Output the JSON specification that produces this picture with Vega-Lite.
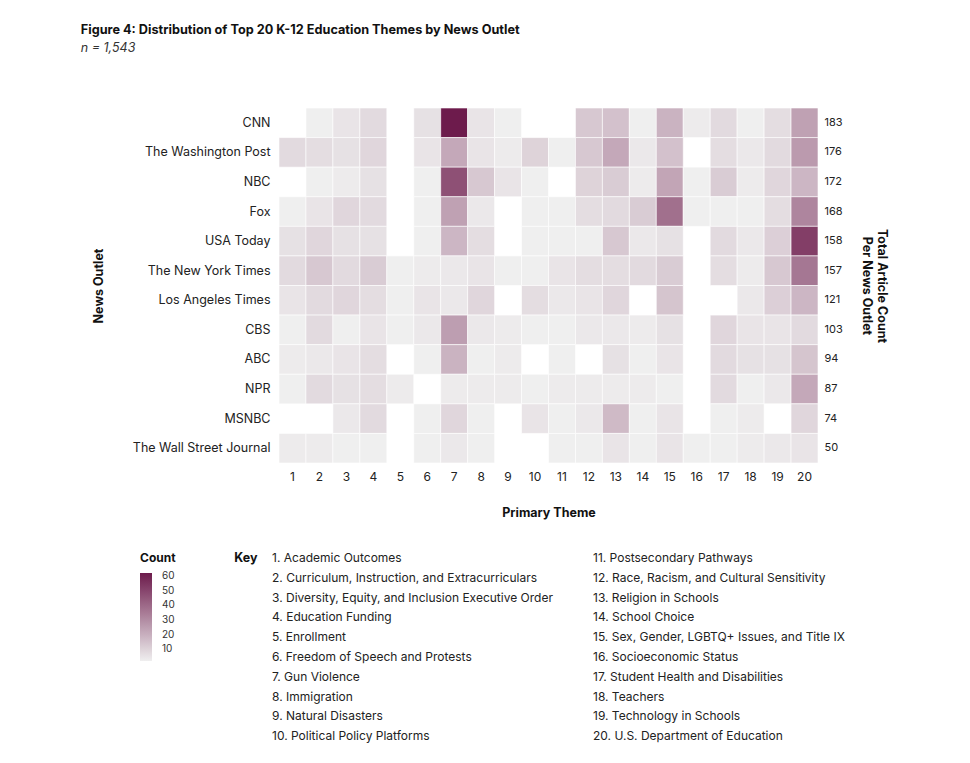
{
  "$schema": "https://vega.github.io/schema/vega-lite/v6.json",
  "background": "white",
  "padding": {"left": 80, "top": 23, "right": 10, "bottom": 10},
  "config": {
    "font": "Inter",
    "view": {"stroke": null},
    "axis": {"domain": false, "ticks": false, "grid": false, "labelFont": "Inter", "titleFont": "Inter", "labelColor": "#222", "titleColor": "#111"},
    "concat": {"spacing": 29}
  },
  "title": {
    "text": "Figure 4: Distribution of Top 20 K-12 Education Themes by News Outlet",
    "subtitle": "n = 1,543",
    "anchor": "start",
    "frame": "bounds",
    "dx": -12,
    "fontSize": 12.7,
    "fontWeight": "bold",
    "color": "#111",
    "subtitleFontStyle": "italic",
    "subtitleFontSize": 12.5,
    "subtitleColor": "#333",
    "subtitlePadding": 6,
    "offset": 53
  },
  "datasets": {
    "cells": [
      {"outlet": "CNN", "theme": 2, "count": 2}, {"outlet": "CNN", "theme": 3, "count": 5}, {"outlet": "CNN", "theme": 4, "count": 8}, {"outlet": "CNN", "theme": 6, "count": 6}, {"outlet": "CNN", "theme": 7, "count": 62}, {"outlet": "CNN", "theme": 8, "count": 5}, {"outlet": "CNN", "theme": 9, "count": 2}, {"outlet": "CNN", "theme": 12, "count": 13}, {"outlet": "CNN", "theme": 13, "count": 15}, {"outlet": "CNN", "theme": 14, "count": 2}, {"outlet": "CNN", "theme": 15, "count": 19}, {"outlet": "CNN", "theme": 16, "count": 3}, {"outlet": "CNN", "theme": 17, "count": 8}, {"outlet": "CNN", "theme": 18, "count": 2}, {"outlet": "CNN", "theme": 19, "count": 7}, {"outlet": "CNN", "theme": 20, "count": 24},
      {"outlet": "The Washington Post", "theme": 1, "count": 8}, {"outlet": "The Washington Post", "theme": 2, "count": 7}, {"outlet": "The Washington Post", "theme": 3, "count": 6}, {"outlet": "The Washington Post", "theme": 4, "count": 9}, {"outlet": "The Washington Post", "theme": 6, "count": 5}, {"outlet": "The Washington Post", "theme": 7, "count": 22}, {"outlet": "The Washington Post", "theme": 8, "count": 5}, {"outlet": "The Washington Post", "theme": 9, "count": 3}, {"outlet": "The Washington Post", "theme": 10, "count": 10}, {"outlet": "The Washington Post", "theme": 11, "count": 2}, {"outlet": "The Washington Post", "theme": 12, "count": 13}, {"outlet": "The Washington Post", "theme": 13, "count": 22}, {"outlet": "The Washington Post", "theme": 14, "count": 4}, {"outlet": "The Washington Post", "theme": 15, "count": 15}, {"outlet": "The Washington Post", "theme": 17, "count": 7}, {"outlet": "The Washington Post", "theme": 18, "count": 4}, {"outlet": "The Washington Post", "theme": 19, "count": 8}, {"outlet": "The Washington Post", "theme": 20, "count": 26},
      {"outlet": "NBC", "theme": 2, "count": 2}, {"outlet": "NBC", "theme": 3, "count": 3}, {"outlet": "NBC", "theme": 4, "count": 6}, {"outlet": "NBC", "theme": 6, "count": 2}, {"outlet": "NBC", "theme": 7, "count": 47}, {"outlet": "NBC", "theme": 8, "count": 13}, {"outlet": "NBC", "theme": 9, "count": 5}, {"outlet": "NBC", "theme": 10, "count": 2}, {"outlet": "NBC", "theme": 12, "count": 10}, {"outlet": "NBC", "theme": 13, "count": 12}, {"outlet": "NBC", "theme": 14, "count": 3}, {"outlet": "NBC", "theme": 15, "count": 23}, {"outlet": "NBC", "theme": 16, "count": 2}, {"outlet": "NBC", "theme": 17, "count": 12}, {"outlet": "NBC", "theme": 18, "count": 3}, {"outlet": "NBC", "theme": 19, "count": 9}, {"outlet": "NBC", "theme": 20, "count": 18},
      {"outlet": "Fox", "theme": 1, "count": 2}, {"outlet": "Fox", "theme": 2, "count": 5}, {"outlet": "Fox", "theme": 3, "count": 9}, {"outlet": "Fox", "theme": 4, "count": 8}, {"outlet": "Fox", "theme": 6, "count": 2}, {"outlet": "Fox", "theme": 7, "count": 24}, {"outlet": "Fox", "theme": 8, "count": 4}, {"outlet": "Fox", "theme": 10, "count": 2}, {"outlet": "Fox", "theme": 11, "count": 2}, {"outlet": "Fox", "theme": 12, "count": 7}, {"outlet": "Fox", "theme": 13, "count": 8}, {"outlet": "Fox", "theme": 14, "count": 12}, {"outlet": "Fox", "theme": 15, "count": 38}, {"outlet": "Fox", "theme": 16, "count": 2}, {"outlet": "Fox", "theme": 17, "count": 2}, {"outlet": "Fox", "theme": 18, "count": 2}, {"outlet": "Fox", "theme": 19, "count": 7}, {"outlet": "Fox", "theme": 20, "count": 32},
      {"outlet": "USA Today", "theme": 1, "count": 6}, {"outlet": "USA Today", "theme": 2, "count": 9}, {"outlet": "USA Today", "theme": 3, "count": 6}, {"outlet": "USA Today", "theme": 4, "count": 6}, {"outlet": "USA Today", "theme": 6, "count": 2}, {"outlet": "USA Today", "theme": 7, "count": 18}, {"outlet": "USA Today", "theme": 8, "count": 7}, {"outlet": "USA Today", "theme": 10, "count": 2}, {"outlet": "USA Today", "theme": 11, "count": 2}, {"outlet": "USA Today", "theme": 12, "count": 2}, {"outlet": "USA Today", "theme": 13, "count": 13}, {"outlet": "USA Today", "theme": 14, "count": 4}, {"outlet": "USA Today", "theme": 15, "count": 6}, {"outlet": "USA Today", "theme": 17, "count": 8}, {"outlet": "USA Today", "theme": 18, "count": 4}, {"outlet": "USA Today", "theme": 19, "count": 11}, {"outlet": "USA Today", "theme": 20, "count": 52},
      {"outlet": "The New York Times", "theme": 1, "count": 8}, {"outlet": "The New York Times", "theme": 2, "count": 13}, {"outlet": "The New York Times", "theme": 3, "count": 8}, {"outlet": "The New York Times", "theme": 4, "count": 12}, {"outlet": "The New York Times", "theme": 5, "count": 2}, {"outlet": "The New York Times", "theme": 6, "count": 3}, {"outlet": "The New York Times", "theme": 7, "count": 4}, {"outlet": "The New York Times", "theme": 8, "count": 5}, {"outlet": "The New York Times", "theme": 9, "count": 2}, {"outlet": "The New York Times", "theme": 10, "count": 2}, {"outlet": "The New York Times", "theme": 11, "count": 5}, {"outlet": "The New York Times", "theme": 12, "count": 7}, {"outlet": "The New York Times", "theme": 13, "count": 7}, {"outlet": "The New York Times", "theme": 14, "count": 8}, {"outlet": "The New York Times", "theme": 15, "count": 12}, {"outlet": "The New York Times", "theme": 17, "count": 7}, {"outlet": "The New York Times", "theme": 18, "count": 3}, {"outlet": "The New York Times", "theme": 19, "count": 13}, {"outlet": "The New York Times", "theme": 20, "count": 36},
      {"outlet": "Los Angeles Times", "theme": 1, "count": 5}, {"outlet": "Los Angeles Times", "theme": 2, "count": 8}, {"outlet": "Los Angeles Times", "theme": 3, "count": 9}, {"outlet": "Los Angeles Times", "theme": 4, "count": 7}, {"outlet": "Los Angeles Times", "theme": 5, "count": 2}, {"outlet": "Los Angeles Times", "theme": 6, "count": 5}, {"outlet": "Los Angeles Times", "theme": 7, "count": 4}, {"outlet": "Los Angeles Times", "theme": 8, "count": 9}, {"outlet": "Los Angeles Times", "theme": 10, "count": 7}, {"outlet": "Los Angeles Times", "theme": 11, "count": 4}, {"outlet": "Los Angeles Times", "theme": 12, "count": 5}, {"outlet": "Los Angeles Times", "theme": 13, "count": 9}, {"outlet": "Los Angeles Times", "theme": 15, "count": 14}, {"outlet": "Los Angeles Times", "theme": 18, "count": 4}, {"outlet": "Los Angeles Times", "theme": 19, "count": 11}, {"outlet": "Los Angeles Times", "theme": 20, "count": 18},
      {"outlet": "CBS", "theme": 1, "count": 2}, {"outlet": "CBS", "theme": 2, "count": 8}, {"outlet": "CBS", "theme": 3, "count": 2}, {"outlet": "CBS", "theme": 4, "count": 5}, {"outlet": "CBS", "theme": 5, "count": 2}, {"outlet": "CBS", "theme": 6, "count": 4}, {"outlet": "CBS", "theme": 7, "count": 25}, {"outlet": "CBS", "theme": 8, "count": 4}, {"outlet": "CBS", "theme": 9, "count": 3}, {"outlet": "CBS", "theme": 10, "count": 2}, {"outlet": "CBS", "theme": 11, "count": 2}, {"outlet": "CBS", "theme": 12, "count": 4}, {"outlet": "CBS", "theme": 13, "count": 4}, {"outlet": "CBS", "theme": 14, "count": 3}, {"outlet": "CBS", "theme": 15, "count": 6}, {"outlet": "CBS", "theme": 17, "count": 9}, {"outlet": "CBS", "theme": 18, "count": 5}, {"outlet": "CBS", "theme": 19, "count": 5}, {"outlet": "CBS", "theme": 20, "count": 8},
      {"outlet": "ABC", "theme": 1, "count": 3}, {"outlet": "ABC", "theme": 2, "count": 4}, {"outlet": "ABC", "theme": 3, "count": 5}, {"outlet": "ABC", "theme": 4, "count": 7}, {"outlet": "ABC", "theme": 6, "count": 2}, {"outlet": "ABC", "theme": 7, "count": 19}, {"outlet": "ABC", "theme": 8, "count": 2}, {"outlet": "ABC", "theme": 9, "count": 3}, {"outlet": "ABC", "theme": 11, "count": 2}, {"outlet": "ABC", "theme": 13, "count": 6}, {"outlet": "ABC", "theme": 14, "count": 2}, {"outlet": "ABC", "theme": 15, "count": 5}, {"outlet": "ABC", "theme": 17, "count": 8}, {"outlet": "ABC", "theme": 18, "count": 6}, {"outlet": "ABC", "theme": 19, "count": 6}, {"outlet": "ABC", "theme": 20, "count": 14},
      {"outlet": "NPR", "theme": 1, "count": 2}, {"outlet": "NPR", "theme": 2, "count": 8}, {"outlet": "NPR", "theme": 3, "count": 6}, {"outlet": "NPR", "theme": 4, "count": 7}, {"outlet": "NPR", "theme": 5, "count": 3}, {"outlet": "NPR", "theme": 7, "count": 3}, {"outlet": "NPR", "theme": 8, "count": 3}, {"outlet": "NPR", "theme": 9, "count": 3}, {"outlet": "NPR", "theme": 10, "count": 2}, {"outlet": "NPR", "theme": 11, "count": 3}, {"outlet": "NPR", "theme": 12, "count": 3}, {"outlet": "NPR", "theme": 13, "count": 3}, {"outlet": "NPR", "theme": 14, "count": 3}, {"outlet": "NPR", "theme": 15, "count": 2}, {"outlet": "NPR", "theme": 17, "count": 8}, {"outlet": "NPR", "theme": 18, "count": 2}, {"outlet": "NPR", "theme": 19, "count": 4}, {"outlet": "NPR", "theme": 20, "count": 22},
      {"outlet": "MSNBC", "theme": 3, "count": 4}, {"outlet": "MSNBC", "theme": 4, "count": 8}, {"outlet": "MSNBC", "theme": 6, "count": 2}, {"outlet": "MSNBC", "theme": 7, "count": 9}, {"outlet": "MSNBC", "theme": 8, "count": 2}, {"outlet": "MSNBC", "theme": 10, "count": 5}, {"outlet": "MSNBC", "theme": 11, "count": 2}, {"outlet": "MSNBC", "theme": 12, "count": 4}, {"outlet": "MSNBC", "theme": 13, "count": 17}, {"outlet": "MSNBC", "theme": 14, "count": 2}, {"outlet": "MSNBC", "theme": 15, "count": 5}, {"outlet": "MSNBC", "theme": 17, "count": 2}, {"outlet": "MSNBC", "theme": 18, "count": 3}, {"outlet": "MSNBC", "theme": 20, "count": 9},
      {"outlet": "The Wall Street Journal", "theme": 1, "count": 3}, {"outlet": "The Wall Street Journal", "theme": 2, "count": 3}, {"outlet": "The Wall Street Journal", "theme": 3, "count": 2}, {"outlet": "The Wall Street Journal", "theme": 4, "count": 2}, {"outlet": "The Wall Street Journal", "theme": 6, "count": 2}, {"outlet": "The Wall Street Journal", "theme": 7, "count": 4}, {"outlet": "The Wall Street Journal", "theme": 8, "count": 2}, {"outlet": "The Wall Street Journal", "theme": 11, "count": 2}, {"outlet": "The Wall Street Journal", "theme": 12, "count": 2}, {"outlet": "The Wall Street Journal", "theme": 13, "count": 5}, {"outlet": "The Wall Street Journal", "theme": 14, "count": 2}, {"outlet": "The Wall Street Journal", "theme": 15, "count": 5}, {"outlet": "The Wall Street Journal", "theme": 16, "count": 2}, {"outlet": "The Wall Street Journal", "theme": 17, "count": 2}, {"outlet": "The Wall Street Journal", "theme": 18, "count": 3}, {"outlet": "The Wall Street Journal", "theme": 19, "count": 4}, {"outlet": "The Wall Street Journal", "theme": 20, "count": 5}
    ],
    "totals": [
      {"outlet": "CNN", "total": 183}, {"outlet": "The Washington Post", "total": 176}, {"outlet": "NBC", "total": 172}, {"outlet": "Fox", "total": 168}, {"outlet": "USA Today", "total": 158}, {"outlet": "The New York Times", "total": 157}, {"outlet": "Los Angeles Times", "total": 121}, {"outlet": "CBS", "total": 103}, {"outlet": "ABC", "total": 94}, {"outlet": "NPR", "total": 87}, {"outlet": "MSNBC", "total": 74}, {"outlet": "The Wall Street Journal", "total": 50}
    ],
    "key": [
      {"col": "A", "row": 1, "label": "1. Academic Outcomes"},
      {"col": "A", "row": 2, "label": "2. Curriculum, Instruction, and Extracurriculars"},
      {"col": "A", "row": 3, "label": "3. Diversity, Equity, and Inclusion Executive Order"},
      {"col": "A", "row": 4, "label": "4. Education Funding"},
      {"col": "A", "row": 5, "label": "5. Enrollment"},
      {"col": "A", "row": 6, "label": "6. Freedom of Speech and Protests"},
      {"col": "A", "row": 7, "label": "7. Gun Violence"},
      {"col": "A", "row": 8, "label": "8. Immigration"},
      {"col": "A", "row": 9, "label": "9. Natural Disasters"},
      {"col": "A", "row": 10, "label": "10. Political Policy Platforms"},
      {"col": "B", "row": 1, "label": "11. Postsecondary Pathways"},
      {"col": "B", "row": 2, "label": "12. Race, Racism, and Cultural Sensitivity"},
      {"col": "B", "row": 3, "label": "13. Religion in Schools"},
      {"col": "B", "row": 4, "label": "14. School Choice"},
      {"col": "B", "row": 5, "label": "15. Sex, Gender, LGBTQ+ Issues, and Title IX"},
      {"col": "B", "row": 6, "label": "16. Socioeconomic Status"},
      {"col": "B", "row": 7, "label": "17. Student Health and Disabilities"},
      {"col": "B", "row": 8, "label": "18. Teachers"},
      {"col": "B", "row": 9, "label": "19. Technology in Schools"},
      {"col": "B", "row": 10, "label": "20. U.S. Department of Education"}
    ]
  },
  "vconcat": [
    {
      "width": 539,
      "height": 355,
      "layer": [
        {
          "data": {"name": "cells"},
          "mark": {"type": "rect", "stroke": "white", "strokeWidth": 0.6},
          "encoding": {
            "x": {
              "field": "theme", "type": "ordinal", "sort": "ascending",
              "axis": {"labelAngle": 0, "title": "Primary Theme", "labelFontSize": 12, "titleFontSize": 12.5, "titleFontWeight": "bold", "labelPadding": 8, "titlePadding": 24}
            },
            "y": {
              "field": "outlet", "type": "nominal",
              "sort": ["CNN", "The Washington Post", "NBC", "Fox", "USA Today", "The New York Times", "Los Angeles Times", "CBS", "ABC", "NPR", "MSNBC", "The Wall Street Journal"],
              "axis": {"title": "News Outlet", "labelFontSize": 12.5, "titleFontSize": 12.5, "titleFontWeight": "bold", "labelPadding": 9, "titlePadding": 26.5}
            },
            "color": {
              "field": "count", "type": "quantitative", "title": "Count",
              "scale": {"range": ["#efefef", "#6d1b4c"], "interpolate": "rgb", "zero": false},
              "legend": {"orient": "none", "legendX": -139, "legendY": 445, "values": [10, 20, 30, 40, 50, 60], "labelOverlap": false, "gradientLength": 88, "gradientThickness": 12, "titleFontSize": 12, "titleFontWeight": "bold", "titleColor": "#111", "labelFontSize": 10, "labelColor": "#333", "titlePadding": 8, "labelOffset": 10}
            }
          }
        },
        {
          "data": {"name": "totals"},
          "mark": {"type": "rect", "opacity": 0},
          "encoding": {
            "y": {
              "field": "total", "type": "ordinal", "sort": "descending",
              "axis": {"orient": "right", "title": ["Total Article Count", "Per News Outlet"], "labelFontSize": 11, "titleFontSize": 12.5, "titleFontWeight": "bold", "titleLineHeight": 15, "labelPadding": 6, "titlePadding": 17}
            }
          }
        }
      ],
      "resolve": {"scale": {"y": "independent"}}
    },
    {
      "width": 321,
      "height": 198,
      "data": {"name": "key"},
      "mark": {"type": "text", "align": "left", "baseline": "middle", "fontSize": 12, "color": "#222", "dx": -7},
      "encoding": {
        "x": {"field": "col", "type": "nominal", "scale": {"type": "point", "padding": 0}, "axis": null},
        "y": {"field": "row", "type": "ordinal", "scale": {"type": "point", "padding": 0.5}, "axis": {"title": null, "labelExpr": "datum.value == 1 ? 'Key' : ''", "labelFontWeight": "bold", "labelFontSize": 12.5, "labelColor": "#111", "labelPadding": 22}},
        "text": {"field": "label"}
      }
    }
  ]
}
